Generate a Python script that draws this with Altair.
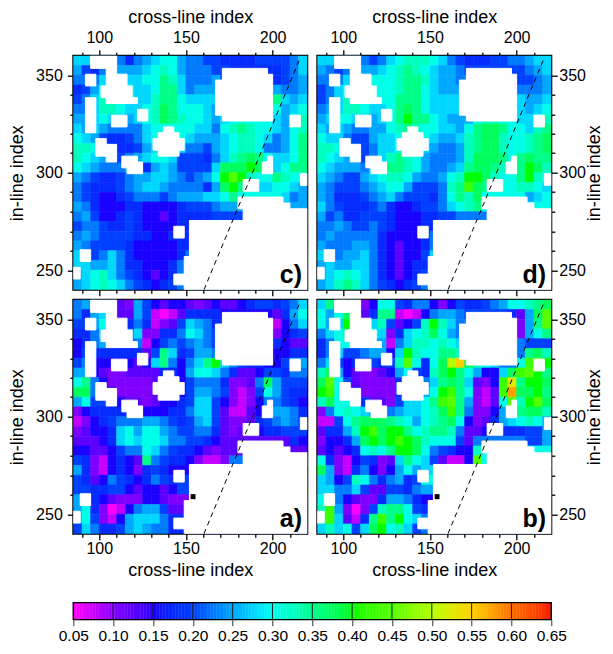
import altair as alt
import pandas as pd

LEVELS = "abcdefghijklmnopqrstuvwxy"  # a=0.05, each next letter +0.025

PANEL_C = [
"jjiiihfhi jkkihhggf fffgggghj",
"igfhiiiij klkihhhgg ffffffghj",
"hhhjkjjjk kmljhhhig ggggffghi",
"fgikkkkjj kmmjhiiii iiiihihhi",
"ghjllkkjj lmmkjjjjj jjjkkmjij",
"hhjllkjjk lnmkkkjij jjjkkkijk",
"iijkjjijk lnmlkkjij kkkkkjikl",
"jijihhhhj kkkkkjjhk lmlkkjikl",
"kjigffghj kkkkjiiij kllkjhikm",
"llkhgffgi jkkjhhgij kllkhhikm",
"lkjihghij kkjgggfhj lmnmkjjkm",
"kjihhhiif ijiggggjn nnonkjkmm",
"ihgffghii jjihghiko qolkkmlkk",
"hgfffghij jihhhhfin omkjjkkji",
"hgfeefghh hghiiijjk mkkkkkjhi",
"ihfeeeffe eeefggghi iiiiiiiii",
"higeefgfe edeffffgg ggggggggg",
"ghhgffgfe eeeffffff fffffffff",
"hihggggff eefffffff fffffffff",
"ihggggfee eeeffffff fffffffff",
"jighjhfee eeefhhhhh hhhhhhhhh",
"jjiijhffe eefhhhhhh hhhhhhhhh",
"ijkljhgfe defhhhhhh hhhhhhhhh",
"ijklkjhgf efghhhhhh hhhhhhhhh",
]
PANEL_D = [
"jjiiihghj klllkjhgf ffgghhijj",
"ihghiiijk lmlkjiihg gggggghij",
"hhhjkkkkk lmmljiihh hhhhggghi",
"ghjkkkkkk lmmkjiiii iiiihhhhi",
"ghjllkkkk mmmkjjjjj jjjkkjiij",
"hijllkjjk mnmkjjjjj jjjkkjijk",
"ijkkjjijk mommkjiii kllkkjjkl",
"jijihhiik lmlkkjjik mnnmkkjlm",
"kjjhggijj kkkkjiijl mnnlkklmn",
"llkihghjj kkkjihhil mnnlkklmn",
"lkjihghjl mlkihhhil nnnmkmnmm",
"kjiiihjkm mlkihhijm nnmlkmonl",
"jihggijkl lkihhiklo onlkkmolk",
"ihggghijk kiggghlmp nmkkkllkj",
"ihfffghij hgggfhkml nkkkkkijk",
"jhgfffghf eefgghjkl mkkkkkkkk",
"ighffgggf eeeffgghh hhhhhhhhh",
"hhihgghgf eeeffffff fffffffff",
"hihhhhhfe eeefhhhhh hhhhhhhhh",
"ihhhiihfe deefhhhhh hhhhhhhhh",
"jihiijhfe deegjkkkk kkkkkkkkk",
"ijiijjhfe deffhkkkk kkkkkkkkk",
"ijklkjhfe defghhhhh hhhhhhhhh",
"ijlmljhgf efghhhhhh hhhhhhhhh",
]
PANEL_A = [
"hiiiidcig edeedcded defggfghj",
"hfijiddig babdffffe eeeeedfik",
"ggikiffhf bcdgjihff ffffdbehj",
"ffhjjhhjc cffhkjhgg ggggecefg",
"efhiihhhb eghghihgg hhhhgfedd",
"egffffffd gmjfgiihh iiihgeeff",
"gheeeeede jmhehjmoj hgffeegii",
"iiedccddd dffeikkjh fddeggfhh",
"kmheccccc dffeghhhf ccdhniggg",
"nnhfecccc dffegiihg cbcgkigff",
"ikggfeddc deefgjjge cbcehhgfe",
"ceffffffe eeffhjjgd bbdehiihf",
"bcefghhhi ihgfgijgd ccdfghihg",
"cdeefjkik kihgghhfd cdeeffggg",
"dddefjkjk kjhhggfed dddddddfe",
"eeddeghhk jhgffedcd ddddddddd",
"gfcbefedm hgffecbbc hhhhhhhhh",
"ifcbefecf gfeeeeeee eeeeeeeee",
"gfdehgfef hgfgggggg ggggggggg",
"ggffggede edegggggg ggggggggg",
"iifedccce edccccccc ccccccccc",
"ikfcabehi igddddddd ddddddddd",
"ikgcbeijj jhfffffff fffffffff",
"gjhffgiji hhfffffff fffffffff",
]
PANEL_B = [
"jmkkkcekk gfhhecegf fghikklmn",
"kiknkdfmm babehiihg ggggfdinq",
"kijokhjlg degloljhh hhhhfcimq",
"hjkmlkkjc fjklnkihh hhhhgcikm",
"fhkkkiiib hjllklkjj kkkkihggg",
"fhjgghiie jolkkmmlk lkkiihmnl",
"hjgeffgfg lqkfknsun lkjhhkpqo",
"lniedccde ikgflnomk ieejnpqom",
"nqkgdcccc fiihjmnmj dceptmoon",
"opkifcccc fiiikopmk cbdpvnnom",
"lnkkkfddc gjjkmpqmi cbdkqloqn",
"chklkjiih ijjklnpmh cceilmnnl",
"bbgkmnnnm lkiklmnke cdfijklki",
"dffilopno omklmmlhd deffffggi",
"ceefinono ponlkkkgd hhhhhhggi",
"dedefklkm oonkhgfee lkkkkkkkk",
"kfcbegfcd jmkjgdbbe qkkkkkkkk",
"nicbfhece ikijjjjjj jjjjjjjjj",
"jieglkhfh ifgkkkkkk kkkkkkkkk",
"jjhhjgddg gfhiiiiii iiiiiiiii",
"kkhedccfi ihfeeeeee eeeeeeeee",
"lpicacglm mkgffffff fffffffff",
"mpjdbfmpm okjhhhhhh hhhhhhhhh",
"jljkgjnok ljghhhhhh hhhhhhhhh",
]

# blank (no data) regions, in data units: x from, x to, y from, y to
BLANKS = [
    (95,110,360,353.5),(104,110,353.5,350.5),(104,116,350.5,344.5),(101,119,344.5,338.5),(104,122,338.5,335.5),
    (92,98,350.5,344.5),(92,98,338.5,320.5),(107,116,329.5,323.5),(122,128,332.5,326.5),
    (137,143,323.5,320.5),(134,146,320.5,317.5),(131,149,317.5,311.5),(134,146,311.5,308.5),
    (98,104,317.5,308.5),(104,110,314.5,305.5),(113,122,308.5,302.5),(116,125,305.5,299.5),
    (171,197,353.5,350.5),(171,200,350.5,347.5),(167,200,347.5,329.5),(171,200,329.5,326.5),
    (210,216,329.5,323.5),(197,200,308.5,305.5),(194,200,305.5,299.5),(216,220,299.5,293.5),(183,192,296.5,290.5),
    (180,206,287.5,284.5),(180,210,284.5,281.5),(183,220,281.5,275.5),(152,220,275.5,257),(149,220,257,240),
    (143,149,248,242.5),(143,149,272.5,266.5),(89,95,260.5,254.5),(85,89,251.5,245.5),
]
SPOT = [(152.7,155.5,260.3,257.7)]
XTICKS = [90,100,110,120,130,140,150,160,170,180,190,200,210]
YTICKS = [250,260,270,280,290,300,310,320,330,340,350]
FAULT_X = [160.4,215.4]
FAULT_Y = [240,357.8]
STOPS = [0.05,0.10,0.15,0.20,0.25,0.30,0.35,0.40,0.45,0.50,0.55,0.60,0.65]
COLORS = ["#ff00ff","#8000ff","#1a00ff","#0040ff","#00a8ff","#00ffe8","#00ff88","#00ff00","#55ff00","#b4ff00","#ffd000","#ff6a00","#ff0000"]

FONT = "Liberation Sans"
PW, PH = 234, 234
xs = alt.Scale(domain=[85,220], nice=False, zero=False)
ys = alt.Scale(domain=[240,360], nice=False, zero=False)
cs = alt.Scale(domain=STOPS, range=COLORS, clamp=True)

def decode(rows):
    out = []
    for r, row in enumerate(rows):
        row = row.replace(" ", "")
        row = (row + row[-1]*27)[:27]
        for c, ch in enumerate(row):
            out.append(dict(x0=85+5*c, x1=90+5*c, y0=360-5*r, y1=355-5*r, v=0.05+0.025*LEVELS.index(ch)))
    return pd.DataFrame(out)

def rects(lst):
    return pd.DataFrame(lst, columns=["x0","x1","y0","y1"])

TICK = {"condition":{"test":"datum.value % 50 === 0","value":6},"value":3.5}
LAB = "datum.value % 50 === 0 ? datum.label : ''"

def xaxis(orient, labelled):
    top = orient == "top"
    return alt.Axis(orient=orient, values=XTICKS, title="cross-line index" if labelled else "", labels=labelled,
                    labelExpr=LAB, labelFontSize=16, titleFontSize=18, titleFontWeight="normal", labelOverlap=False,
                    grid=False, domain=False, tickColor="black", tickWidth=1.3, tickSize=TICK, labelPadding=4.5 if top else 0.7,
                    titlePadding=2.6 if top else 5.5, labelFont=FONT, titleFont=FONT, labelColor="black", titleColor="black")

def yaxis(orient):
    right = orient == "right"
    extra = dict(titleBaseline="top", titleAngle=270) if right else {}
    return alt.Axis(orient=orient, values=YTICKS, title="in-line index", labelExpr=LAB, labelFontSize=16, titleFontSize=18,
                    titleFontWeight="normal", labelOverlap=False, grid=False, domain=False, tickColor="black", tickWidth=1.3,
                    tickSize=TICK, labelPadding=1.5 if right else 5, titlePadding=0 if right else 9, labelFont=FONT, titleFont=FONT,
                    labelColor="black", titleColor="black", **extra)

def panel(rows, label, top, right, spot):
    xo = "top" if top else "bottom"
    heat = alt.Chart(decode(rows)).mark_rect(clip=True, strokeWidth=0.6).encode(
        x=alt.X("x0:Q", scale=xs, axis=xaxis(xo, True)), x2="x1:Q",
        y=alt.Y("y0:Q", scale=ys, axis=yaxis("right" if right else "left")), y2="y1:Q",
        color=alt.Color("v:Q", scale=cs, legend=None),
        stroke=alt.Stroke("v:Q", scale=cs, legend=None))
    mask = alt.Chart(rects(BLANKS)).mark_rect(color="white", stroke="white", strokeWidth=1, clip=True).encode(
        x=alt.X("x0:Q", scale=xs, axis=None), x2="x1:Q",
        y=alt.Y("y0:Q", scale=ys, axis=None), y2="y1:Q")
    line = alt.Chart(pd.DataFrame({"x":FAULT_X,"y":FAULT_Y})).mark_line(color="black", strokeWidth=1, strokeDash=[5,4], clip=True).encode(
        x=alt.X("x:Q", scale=xs, axis=xaxis("bottom", False) if top else None),
        y=alt.Y("y:Q", scale=ys, axis=None))
    txt = alt.Chart(pd.DataFrame({"x":[217],"y":[247.5],"t":[label]})).mark_text(
        font=FONT, fontSize=25, fontWeight="bold", align="right", baseline="middle", color="black").encode(
        x=alt.X("x:Q", scale=xs, axis=None), y=alt.Y("y:Q", scale=ys, axis=None), text="t:N")
    lays = [heat, mask, line, txt]
    if spot:
        lays.insert(2, alt.Chart(rects(SPOT)).mark_rect(color="black").encode(
            x=alt.X("x0:Q", scale=xs, axis=None), x2="x1:Q",
            y=alt.Y("y0:Q", scale=ys, axis=None), y2="y1:Q"))
    return alt.layer(*lays).resolve_axis(x="independent", y="independent").properties(width=PW, height=PH)

# colour bar
BAR_W, BAR_H, BAR_TOP = 478, 76, 59
grads = [round(0.05+0.004*i, 3) for i in range(150)]
bar_df = pd.DataFrame({"a":grads,"b":[round(g+0.004,3) for g in grads]})
bx = alt.Scale(domain=[0.05,0.65], range=[0,BAR_W], nice=False, zero=False)
bar_rect = alt.Chart(bar_df).mark_rect(strokeWidth=0.4).encode(
    x=alt.X("a:Q", scale=bx, axis=alt.Axis(values=STOPS, format=".2f", title=None, grid=False, domain=False, labelFontSize=15.5,
                                           labelFont=FONT, labelColor="black", tickColor="#333333", tickSize=6, tickWidth=1, labelPadding=2.6, labelOverlap=False, labelFlush=False)),
    x2="b:Q", y=alt.value(BAR_TOP), y2=alt.value(BAR_H),
    color=alt.Color("a:Q", scale=cs, legend=None), stroke=alt.Stroke("a:Q", scale=cs, legend=None))
bar_lines = alt.Chart(pd.DataFrame({"s":STOPS})).mark_rule(color="#222222", strokeWidth=1).encode(
    x=alt.X("s:Q", scale=bx, axis=None), y=alt.value(BAR_TOP), y2=alt.value(BAR_H))
bar_box = alt.Chart(pd.DataFrame({"k":[1]})).mark_rect(fillOpacity=0, stroke="black", strokeWidth=1.2).encode(
    x=alt.value(0), x2=alt.value(BAR_W), y=alt.value(BAR_TOP), y2=alt.value(BAR_H))
bar = alt.layer(bar_rect, bar_lines, bar_box).resolve_axis(x="independent").properties(width=PW, height=BAR_H, view=alt.ViewBackground(stroke="transparent"))

LEFT, TOP = 65.3, 47.7
chart = alt.concat(
    panel(PANEL_C, "c)", True, False, False),
    panel(PANEL_D, "d)", True, True, False),
    panel(PANEL_A, "a)", False, False, True),
    panel(PANEL_B, "b)", False, True, True),
    bar, columns=2, spacing=10, bounds="flush", align="none",
).properties(autosize=alt.AutoSizeParams(type="none"),
             padding={"left":LEFT,"top":TOP,"right":597-LEFT,"bottom":638-TOP}).configure_view(stroke="black", strokeWidth=2)

chart.save("out.html", embed_options={"renderer": "svg", "actions": False})
